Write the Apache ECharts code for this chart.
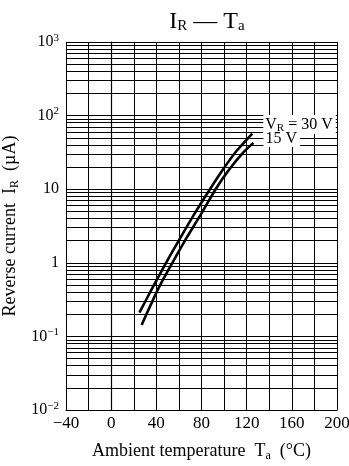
<!DOCTYPE html>
<html><head><meta charset="utf-8">
<script src="https://cdn.jsdelivr.net/npm/echarts@6/dist/echarts.min.js"></script>
<style>html,body{margin:0;padding:0;background:#fff}#c{width:349px;height:466px}</style>
</head><body><div id="c"></div>
<script>
// Data
var temp30 = [25, 37, 48.6, 61, 74, 87.5, 99, 111, 125];
var ir30   = [0.21, 0.47, 1.0, 2.15, 4.7, 10, 18.5, 33, 57];
var temp15 = [27, 42.5, 54.2, 66.5, 80, 92.5, 104.5, 116.5, 126];
var ir15   = [0.143, 0.47, 1.0, 2.15, 4.7, 10, 18.5, 31, 42.6];
var xTicks = [-40, 0, 40, 80, 120, 160, 200];
var yTickValues = [0.01, 0.1, 1, 10, 100, 1000];
var yTickLabels = ['10{sup|\u22122}', '10{sup|\u22121}', '1', '10', '10{sup|2}', '10{sup|3}'];
var minorMultipliers = [2, 3, 4, 5, 6, 7, 8, 9];
var decades = [0.01, 0.1, 1, 10, 100];

function pairs(xs, ys){ return xs.map(function(x,i){return [x, ys[i]];}); }
var minorLines = [];
decades.forEach(function(d){ minorMultipliers.forEach(function(m){ minorLines.push({yAxis: +(m*d).toPrecision(3)}); }); });

var FONT = '"Liberation Serif", "DejaVu Serif", serif';
var subStyle = function(size, pad){ return {fontFamily: FONT, fontSize: size, verticalAlign: 'bottom', padding:[pad,0,0,0], color:'#000'}; };
var chart = echarts.init(document.getElementById('c'), null, {renderer:'canvas'});
chart.setOption({
  animation: false,
  backgroundColor: '#fff',
  textStyle: {fontFamily: FONT, color: '#000'},
  title: {
    text: 'I{sub|R} \u2014 T{sub|a}',
    left: 202, top: 5, textAlign: 'center',
    textStyle: {fontFamily: FONT, fontSize: 24, fontWeight: 'normal', color: '#000',
      rich: {sub: subStyle(15, 9)}}
  },
  grid: {left: 66, right: 12, top: 42, bottom: 56, containLabel: false, outerBoundsMode: 'none'},
  xAxis: {
    type: 'value', min: -40, max: 200, interval: 20,
    name: 'Ambient temperature  T{sub|a}  (\u00b0C)', nameLocation: 'middle', nameGap: 31,
    nameTextStyle: {fontFamily: FONT, fontSize: 18, color: '#000', rich: {sub: subStyle(12, 9)}},
    axisLine: {show: true, lineStyle: {color: '#000', width: 1.2}},
    axisTick: {show: false},
    axisLabel: {color: '#000', fontFamily: FONT, fontSize: 17, margin: 5,
      formatter: function(v){ return xTicks.indexOf(v) >= 0 ? (v < 0 ? '\u2212' + (-v) : String(v)) : ''; }},
    splitLine: {show: true, lineStyle: {color: '#000', width: 1}}
  },
  yAxis: {
    type: 'log', logBase: 10, min: 0.01, max: 1000,
    name: 'Reverse current  I{sub|R}  (\u00b5A)', nameLocation: 'middle', nameGap: 42, nameRotate: 90,
    nameTextStyle: {fontFamily: FONT, fontSize: 18, color: '#000', rich: {sub: subStyle(12, 9)}},
    axisLine: {show: true, lineStyle: {color: '#000', width: 1.2}},
    axisTick: {show: false},
    axisLabel: {color: '#000', fontFamily: FONT, fontSize: 16, margin: 7,
      formatter: function(v){ var i = yTickValues.findIndex(function(t){return Math.abs(Math.log10(t) - Math.log10(v)) < 1e-6;}); return i >= 0 ? yTickLabels[i] : ''; },
      rich: {sup: {fontFamily: FONT, fontSize: 11, verticalAlign: 'top', padding:[0,0,8,0], color:'#000'}}},
    splitLine: {show: true, lineStyle: {color: '#000', width: 1}}
  },
  series: [
    {
      type: 'line', name: '30V', data: pairs(temp30, ir30), smooth: 0.25, showSymbol: false,
      lineStyle: {color: '#000', width: 2.6}, z: 5,
      endLabel: {show: true, formatter: 'V{sub|R} = 30 V', offset: [3, -9], backgroundColor: '#fff',
        padding: [0, 3, 0, 2], color: '#000', fontFamily: FONT, fontSize: 16, rich: {sub: subStyle(11, 8)}},
      markLine: {silent: true, symbol: 'none', label: {show: false}, animation: false,
        lineStyle: {color: '#000', width: 1, type: 'solid'}, data: minorLines, z: 1}
    },
    {
      type: 'line', name: '15V', data: pairs(temp15, ir15), smooth: 0.25, showSymbol: false,
      lineStyle: {color: '#000', width: 2.6}, z: 5,
      endLabel: {show: true, formatter: '15 V', offset: [2, -4], backgroundColor: '#fff',
        padding: [0, 3, 0, 2], color: '#000', fontFamily: FONT, fontSize: 16}
    }
  ]
});
</script></body></html>
